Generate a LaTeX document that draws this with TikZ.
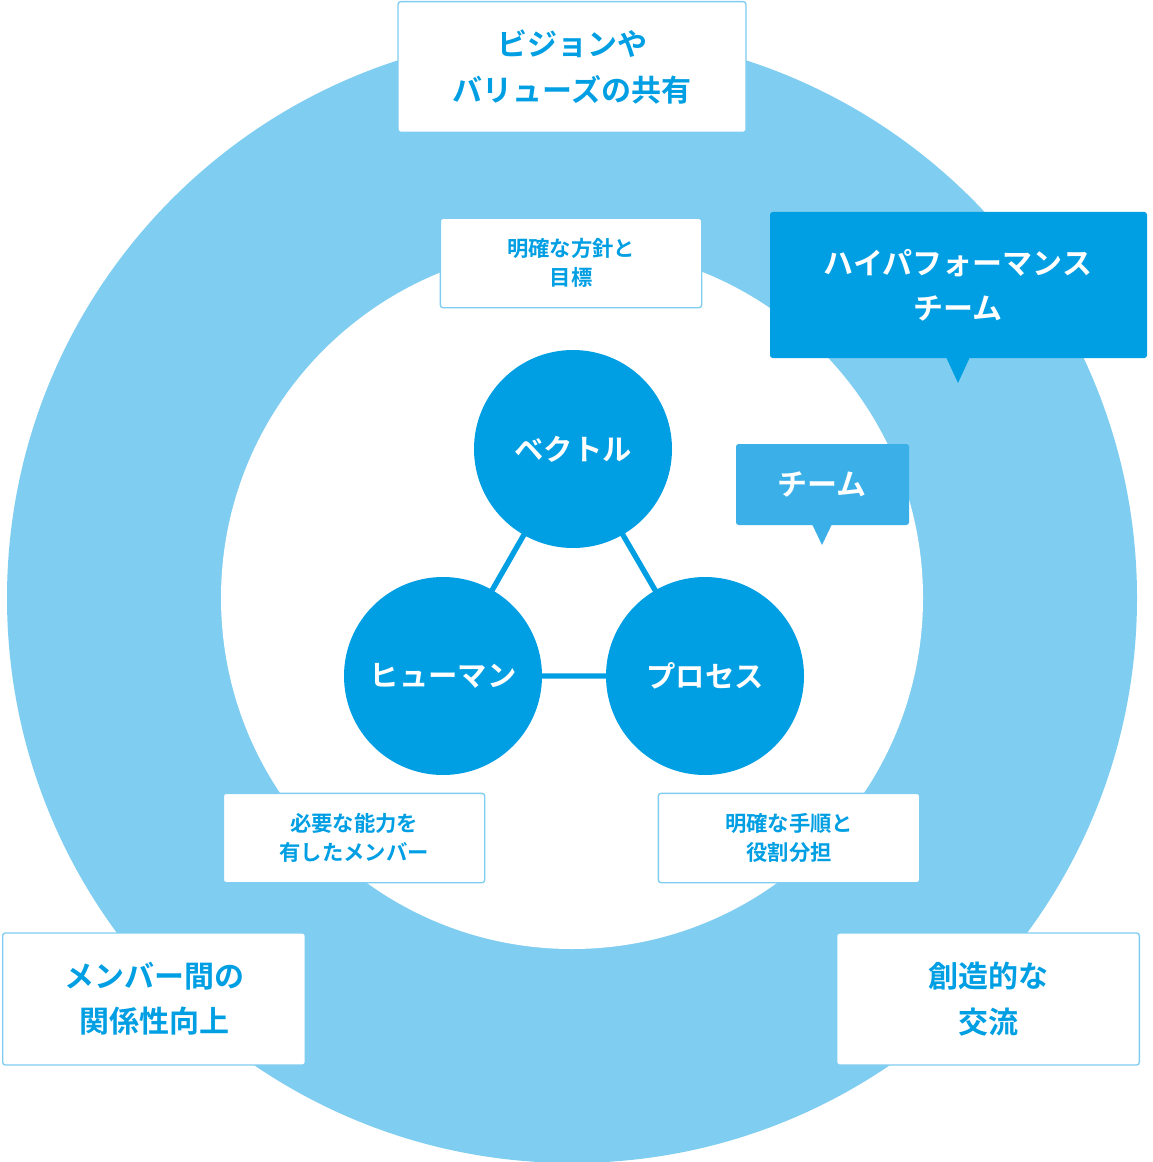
\documentclass[tikz,border=0pt]{standalone}
\usepackage{fontspec}
\newfontfamily\jp{Noto Sans CJK JP Bold}
\definecolor{ring}{HTML}{7FCDF0}
\definecolor{dblue}{HTML}{009FE3}
\definecolor{mblue}{HTML}{3BB0E8}
\begin{document}
\begin{tikzpicture}[x=0.75pt,y=-0.75pt,
  circ/.style={circle,fill=dblue,minimum size=148.5pt,inner sep=0,text=white,font=\jp\fontsize{22}{26}\selectfont},
  wbox/.style={draw=ring,line width=1pt,fill=white,rounded corners=2pt,align=center,text=dblue,inner sep=0},
  big/.style={font=\jp\fontsize{22.5}{34}\selectfont},
  small/.style={font=\jp\fontsize{16}{22}\selectfont},
  link/.style={dblue,line width=4pt}]
\useasboundingbox (0,0) rectangle (1152,1162);
\fill[ring] (572,598) circle [radius=565];
\fill[white] (572,598) circle [radius=351];
\coordinate (cv) at (573,449);
\coordinate (ch) at (443,676);
\coordinate (cp) at (705,676);
\draw[link] (cv) -- (ch) -- (cp) -- cycle;
\node[circ] (v) at (cv) {ベクトル};
\node[circ] (h) at (ch) {ヒューマン};
\node[circ] (p) at (cp) {プロセス};
\node[wbox,big,minimum width=261pt,minimum height=98pt] (t) at (572,67) {ビジョンや\\バリューズの共有};
\node[wbox,small,minimum width=196pt,minimum height=67pt] (g) at (571,263) {明確な方針と\\目標};
\node[wbox,small,minimum width=196pt,minimum height=67pt] (m) at (354,838) {必要な能力を\\有したメンバー};
\node[wbox,small,minimum width=196pt,minimum height=67pt] (r) at (789,838) {明確な手順と\\役割分担};
\node[wbox,big,minimum width=227pt,minimum height=99pt] (l) at (154,999) {メンバー間の\\関係性向上};
\node[wbox,big,minimum width=227pt,minimum height=99pt] (c) at (988,999) {創造的な\\交流};
\fill[dblue,rounded corners=2pt] (770,212) rectangle (1147,358);
\fill[dblue] (946,357) -- (958,383) -- (970,357) -- cycle;
\node[text=white,big,align=center] (hp) at (958,285) {ハイパフォーマンス\\チーム};
\fill[mblue,rounded corners=2pt] (736,444) rectangle (909,525);
\fill[mblue] (812,524) -- (822,545) -- (832,524) -- cycle;
\node[text=white,big] (tm) at (822,484) {チーム};
\end{tikzpicture}
\end{document}
